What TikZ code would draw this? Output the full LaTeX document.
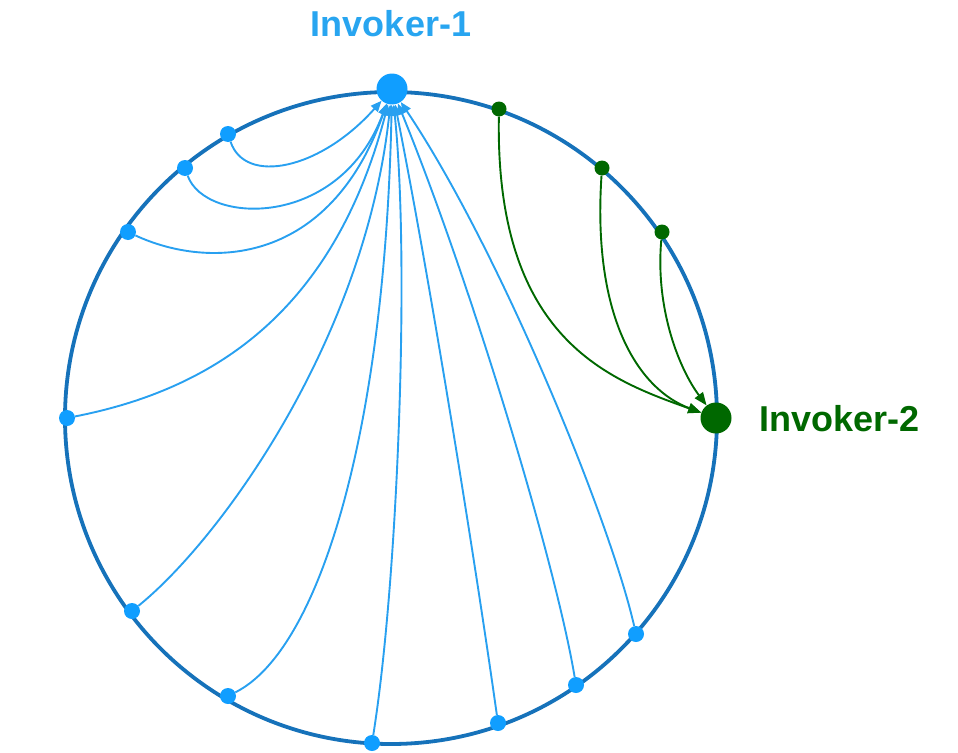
\documentclass[tikz,border=0pt]{standalone}
\usepackage{fontspec}
\setmainfont{Liberation Sans}
\usetikzlibrary{arrows.meta}
\definecolor{ringblue}{RGB}{22,114,186}
\definecolor{edgeblue}{RGB}{40,160,240}
\definecolor{dotblue}{RGB}{16,158,255}
\definecolor{txtblue}{RGB}{40,165,240}
\definecolor{dgreen}{RGB}{0,104,0}
\tikzset{
  bdot/.style={circle, fill=dotblue, inner sep=0pt, minimum size=16pt},
  gdot/.style={circle, fill=dgreen, inner sep=0pt, minimum size=15pt},
  bigb/.style={circle, fill=dotblue, inner sep=0pt, minimum size=31pt},
  bigg/.style={circle, fill=dgreen, inner sep=0pt, minimum size=31pt},
  bedge/.style={draw=edgeblue, line width=1.9pt, -{Triangle[length=11pt,width=9pt]}},
  gedge/.style={draw=dgreen, line width=1.9pt, -{Triangle[length=13pt,width=10pt]}},
  lbl/.style={font=\bfseries\fontsize{36}{36}\selectfont, inner sep=0pt}
}
\begin{document}
\begin{tikzpicture}[x=1pt,y=-1pt]
\useasboundingbox (0,0) rectangle (958,752);
\draw[ringblue, line width=3.8pt] (391,418) circle[radius=326];
% main nodes
\node[bigb] (I1) at (392,89) {};
\node[bigg] (I2) at (716,418) {};
\node[lbl, text=txtblue] (L1) at (391,24) {Invoker-1};
\node[lbl, text=dgreen, anchor=west] (L2) at (759,419) {Invoker-2};
% blue nodes
\node[bdot] (b1) at (228,134) {};
\node[bdot] (b2) at (185,168) {};
\node[bdot] (b3) at (128,232) {};
\node[bdot] (b4) at (67,418) {};
\node[bdot] (b5) at (132,611) {};
\node[bdot] (b6) at (228,696) {};
\node[bdot] (b7) at (372,743) {};
\node[bdot] (b8) at (498,723) {};
\node[bdot] (b9) at (576,685) {};
\node[bdot] (b10) at (636,634) {};
% green nodes
\node[gdot] (g1) at (499,109) {};
\node[gdot] (g2) at (602,168) {};
\node[gdot] (g3) at (662,232) {};
% blue edges
\draw[bedge] (b1) .. controls (245,185) and (320,170) .. (I1);
\draw[bedge] (b2) .. controls (205,225) and (340,230) .. (I1);
\draw[bedge] (b3) .. controls (210,270) and (330,265) .. (I1);
\draw[bedge] (b4) .. controls (210,390) and (333,315) .. (I1);
\draw[bedge] (b5) .. controls (220,540) and (365,340) .. (I1);
\draw[bedge] (b6) .. controls (320,650) and (385,430) .. (I1);
\draw[bedge] (b7) .. controls (398,580) and (410,260) .. (I1);
\draw[bedge] (b8) .. controls (475,560) and (430,280) .. (I1);
\draw[bedge] (b9) .. controls (555,560) and (470,280) .. (I1);
\draw[bedge] (b10) .. controls (610,520) and (500,250) .. (I1);
% green edges
\draw[gedge] (g1) .. controls (495,340) and (610,380) .. (I2);
\draw[gedge] (g2) .. controls (592,320) and (640,390) .. (I2);
\draw[gedge] (g3) .. controls (655,310) and (680,370) .. (I2);
\end{tikzpicture}
\end{document}
